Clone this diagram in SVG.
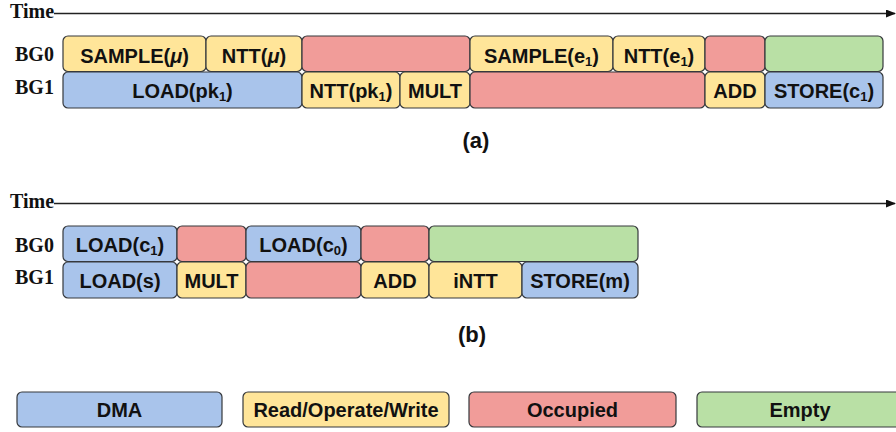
<svg xmlns="http://www.w3.org/2000/svg" width="896" height="432" viewBox="0 0 896 432">
<style>
.b{stroke:#36393d;stroke-width:1.2}
.dma{fill:#a9c4eb}
.row{fill:#ffe599}
.occ{fill:#f19c99}
.emp{fill:#b9e0a5}
.t{font-family:"Liberation Sans",Arial,sans-serif;font-weight:bold;font-size:20px;fill:#111;text-anchor:middle}
.s{font-family:"Liberation Serif","Times New Roman",serif;font-weight:bold;font-size:20px;fill:#111}
.cap{font-family:"Liberation Sans",Arial,sans-serif;font-weight:bold;font-size:22px;fill:#111;text-anchor:middle}
.ax{stroke:#222;stroke-width:1.3;fill:none}
</style>
<defs>
<marker id="arr" markerWidth="10" markerHeight="8" refX="9" refY="4" orient="auto" markerUnits="userSpaceOnUse">
<path d="M0,0 L10,4 L0,8 z" fill="#111"/>
</marker>
</defs>
<rect width="896" height="432" fill="#fff"/>

<g id="connectors">
<line class="ax" x1="54" y1="13.5" x2="895" y2="13.5" marker-end="url(#arr)"/>
<line class="ax" x1="54" y1="203.5" x2="895" y2="203.5" marker-end="url(#arr)"/>
</g>

<g id="labels-a">
<text class="s" x="10" y="17.5">Time</text>
<text class="s" x="15" y="60.5">BG0</text>
<text class="s" x="15" y="93.5">BG1</text>
<text class="cap" x="476" y="148">(a)</text>
</g>

<!-- (a) BG0 -->
<g id="a-bg0-sample-mu"><rect class="b row" x="63" y="36" width="143" height="35.5" rx="5"/><text class="t" x="134.5" y="62.5">SAMPLE(<tspan font-style="italic">μ</tspan>)</text></g>
<g id="a-bg0-ntt-mu"><rect class="b row" x="206" y="36" width="96" height="35.5" rx="5"/><text class="t" x="254" y="62.5">NTT(<tspan font-style="italic">μ</tspan>)</text></g>
<g id="a-bg0-occ1"><rect class="b occ" x="302" y="36" width="168" height="35.5" rx="5"/></g>
<g id="a-bg0-sample-e1"><rect class="b row" x="470" y="36" width="143" height="35.5" rx="5"/><text class="t" x="541.5" y="62.5">SAMPLE(e<tspan font-size="13" dy="3">1</tspan><tspan dy="-3">)</tspan></text></g>
<g id="a-bg0-ntt-e1"><rect class="b row" x="613" y="36" width="92" height="35.5" rx="5"/><text class="t" x="659" y="62.5">NTT(e<tspan font-size="13" dy="3">1</tspan><tspan dy="-3">)</tspan></text></g>
<g id="a-bg0-occ2"><rect class="b occ" x="705" y="36" width="60" height="35.5" rx="5"/></g>
<g id="a-bg0-empty"><rect class="b emp" x="765" y="36" width="118" height="35.5" rx="5"/></g>

<!-- (a) BG1 -->
<g id="a-bg1-load-pk1"><rect class="b dma" x="63" y="72" width="239" height="36" rx="5"/><text class="t" x="182.5" y="98">LOAD(pk<tspan font-size="13" dy="3">1</tspan><tspan dy="-3">)</tspan></text></g>
<g id="a-bg1-ntt-pk1"><rect class="b row" x="302" y="72" width="98" height="36" rx="5"/><text class="t" x="351" y="98">NTT(pk<tspan font-size="13" dy="3">1</tspan><tspan dy="-3">)</tspan></text></g>
<g id="a-bg1-mult"><rect class="b row" x="400" y="72" width="70" height="36" rx="5"/><text class="t" x="435" y="98">MULT</text></g>
<g id="a-bg1-occ"><rect class="b occ" x="470" y="72" width="235" height="36" rx="5"/></g>
<g id="a-bg1-add"><rect class="b row" x="705" y="72" width="60" height="36" rx="5"/><text class="t" x="735" y="98">ADD</text></g>
<g id="a-bg1-store-c1"><rect class="b dma" x="765" y="72" width="118" height="36" rx="5"/><text class="t" x="824" y="98">STORE(c<tspan font-size="13" dy="3">1</tspan><tspan dy="-3">)</tspan></text></g>

<g id="labels-b">
<text class="s" x="10" y="208">Time</text>
<text class="s" x="15" y="252">BG0</text>
<text class="s" x="15" y="283.5">BG1</text>
<text class="cap" x="472" y="342">(b)</text>
</g>

<!-- (b) BG0 -->
<g id="b-bg0-load-c1"><rect class="b dma" x="63" y="226" width="114" height="35.5" rx="5"/><text class="t" x="120" y="252">LOAD(c<tspan font-size="13" dy="3">1</tspan><tspan dy="-3">)</tspan></text></g>
<g id="b-bg0-occ1"><rect class="b occ" x="177" y="226" width="69" height="35.5" rx="5"/></g>
<g id="b-bg0-load-c0"><rect class="b dma" x="246" y="226" width="115" height="35.5" rx="5"/><text class="t" x="303.5" y="252">LOAD(c<tspan font-size="13" dy="3">0</tspan><tspan dy="-3">)</tspan></text></g>
<g id="b-bg0-occ2"><rect class="b occ" x="361" y="226" width="68" height="35.5" rx="5"/></g>
<g id="b-bg0-empty"><rect class="b emp" x="429" y="226" width="209" height="35.5" rx="5"/></g>

<!-- (b) BG1 -->
<g id="b-bg1-load-s"><rect class="b dma" x="63" y="262" width="114" height="36" rx="5"/><text class="t" x="120" y="288">LOAD(s)</text></g>
<g id="b-bg1-mult"><rect class="b row" x="177" y="262" width="69" height="36" rx="5"/><text class="t" x="211.5" y="288">MULT</text></g>
<g id="b-bg1-occ"><rect class="b occ" x="246" y="262" width="115" height="36" rx="5"/></g>
<g id="b-bg1-add"><rect class="b row" x="361" y="262" width="68" height="36" rx="5"/><text class="t" x="395" y="288">ADD</text></g>
<g id="b-bg1-intt"><rect class="b row" x="429" y="262" width="93" height="36" rx="5"/><text class="t" x="475.5" y="288">iNTT</text></g>
<g id="b-bg1-store-m"><rect class="b dma" x="522" y="262" width="116" height="36" rx="5"/><text class="t" x="580" y="288">STORE(m)</text></g>

<!-- legend -->
<g id="legend-dma"><rect class="b dma" x="17" y="392" width="205" height="35" rx="5"/><text class="t" x="119.5" y="417">DMA</text></g>
<g id="legend-row"><rect class="b row" x="243" y="392" width="206" height="35" rx="5"/><text class="t" x="346" y="417">Read/Operate/Write</text></g>
<g id="legend-occ"><rect class="b occ" x="469" y="392" width="207" height="35" rx="5"/><text class="t" x="572.5" y="417">Occupied</text></g>
<g id="legend-empty"><rect class="b emp" x="697" y="392" width="207" height="35" rx="5"/><text class="t" x="800" y="417">Empty</text></g>
</svg>
